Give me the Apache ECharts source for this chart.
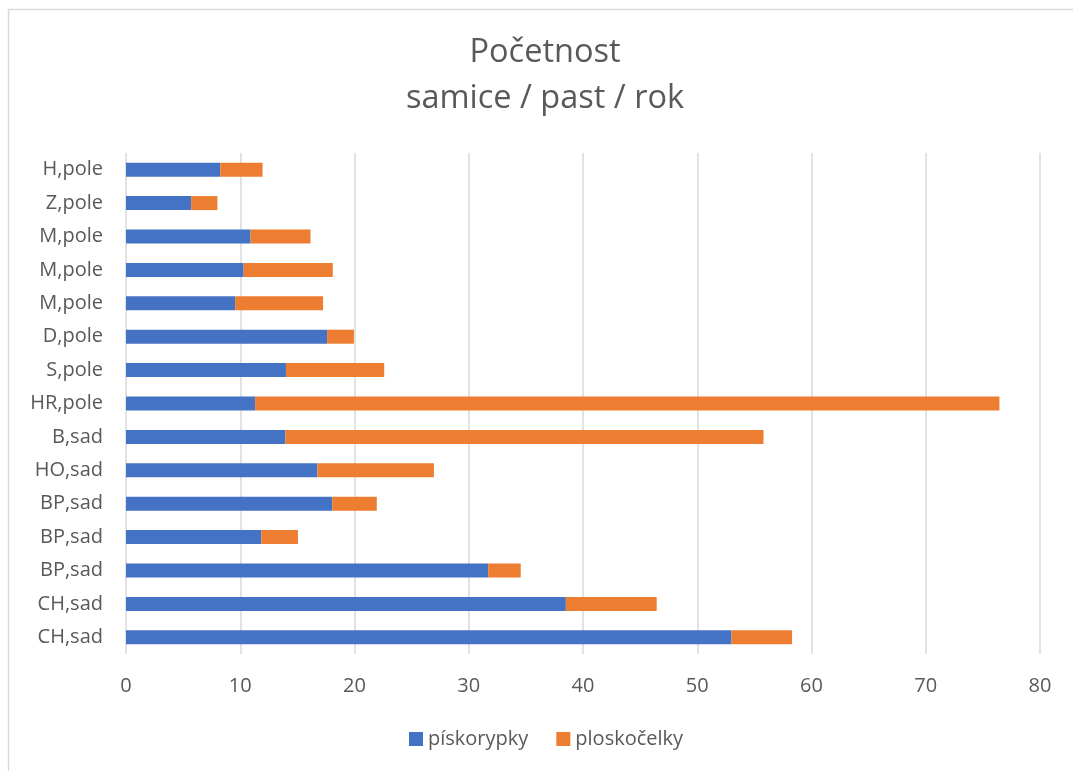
<!DOCTYPE html>
<html>
<head>
<meta charset="utf-8">
<script src="https://cdn.jsdelivr.net/npm/echarts@6/dist/echarts.min.js"></script>
<style>
  html, body { margin: 0; padding: 0; background: #ffffff; }
  #chart { width: 1073px; height: 771px; }
</style>
</head>
<body>
<div id="chart"></div>
<script>
// Sites, listed from the bottom bar upwards
const categories = ['CH,sad', 'CH,sad', 'BP,sad', 'BP,sad', 'BP,sad', 'HO,sad', 'B,sad', 'HR,pole',
                    'S,pole', 'D,pole', 'M,pole', 'M,pole', 'M,pole', 'Z,pole', 'H,pole'];
const piskorypky = [53.0, 38.5, 31.7, 11.85, 18.05, 16.75, 13.95, 11.3, 14.0, 17.6, 9.55, 10.3, 10.9, 5.7, 8.25];
const ploskocelky = [5.3, 7.95, 2.85, 3.2, 3.9, 10.2, 41.85, 65.15, 8.6, 2.35, 7.7, 7.8, 5.25, 2.3, 3.7];
const xTicks = { min: 0, max: 80, interval: 10 };

const FONT = "'Open Sans', 'DejaVu Sans', sans-serif";
const TEXT = '#595959';
const GRID = '#d9d9d9';

const chart = echarts.init(document.getElementById('chart'), null, { renderer: 'canvas' });
chart.setOption({
  backgroundColor: '#ffffff',
  animation: false,
  title: {
    text: 'Početnost\nsamice / past / rok',
    left: 545,
    top: 30,
    padding: 0,
    textAlign: 'center',
    textStyle: { fontFamily: FONT, fontSize: 32.5, fontWeight: 'normal', color: TEXT, lineHeight: 46 }
  },
  legend: {
    data: ['pískorypky', 'ploskočelky'],
    left: 409,
    top: 729,
    padding: 0,
    itemWidth: 14,
    itemHeight: 14,
    itemGap: 28,
    icon: 'rect',
    textStyle: { fontFamily: FONT, fontSize: 20, color: TEXT }
  },
  grid: { left: 126, right: 33, top: 153, height: 501, containLabel: false },
  xAxis: {
    type: 'value',
    min: xTicks.min,
    max: xTicks.max,
    interval: xTicks.interval,
    axisLine: { show: false },
    axisTick: { show: false },
    axisLabel: { fontFamily: FONT, fontSize: 20, color: TEXT, margin: 22 },
    splitLine: { show: true, lineStyle: { color: GRID, width: 1.5 } }
  },
  yAxis: {
    type: 'category',
    data: categories,
    axisLine: { show: false },
    axisTick: { show: false },
    axisLabel: { fontFamily: FONT, fontSize: 20, color: TEXT, margin: 23 },
    splitLine: { show: false }
  },
  series: [
    {
      name: 'pískorypky',
      type: 'bar',
      stack: 'total',
      barWidth: 14,
      itemStyle: { color: '#4472C4' },
      data: piskorypky
    },
    {
      name: 'ploskočelky',
      type: 'bar',
      stack: 'total',
      barWidth: 14,
      itemStyle: { color: '#ED7D31' },
      data: ploskocelky
    }
  ],
  graphic: [
    {
      type: 'rect',
      silent: true,
      shape: { x: 8.5, y: 9.5, width: 1100, height: 800 },
      style: { fill: 'none', stroke: GRID, lineWidth: 1.5 }
    }
  ]
});
</script>
</body>
</html>
